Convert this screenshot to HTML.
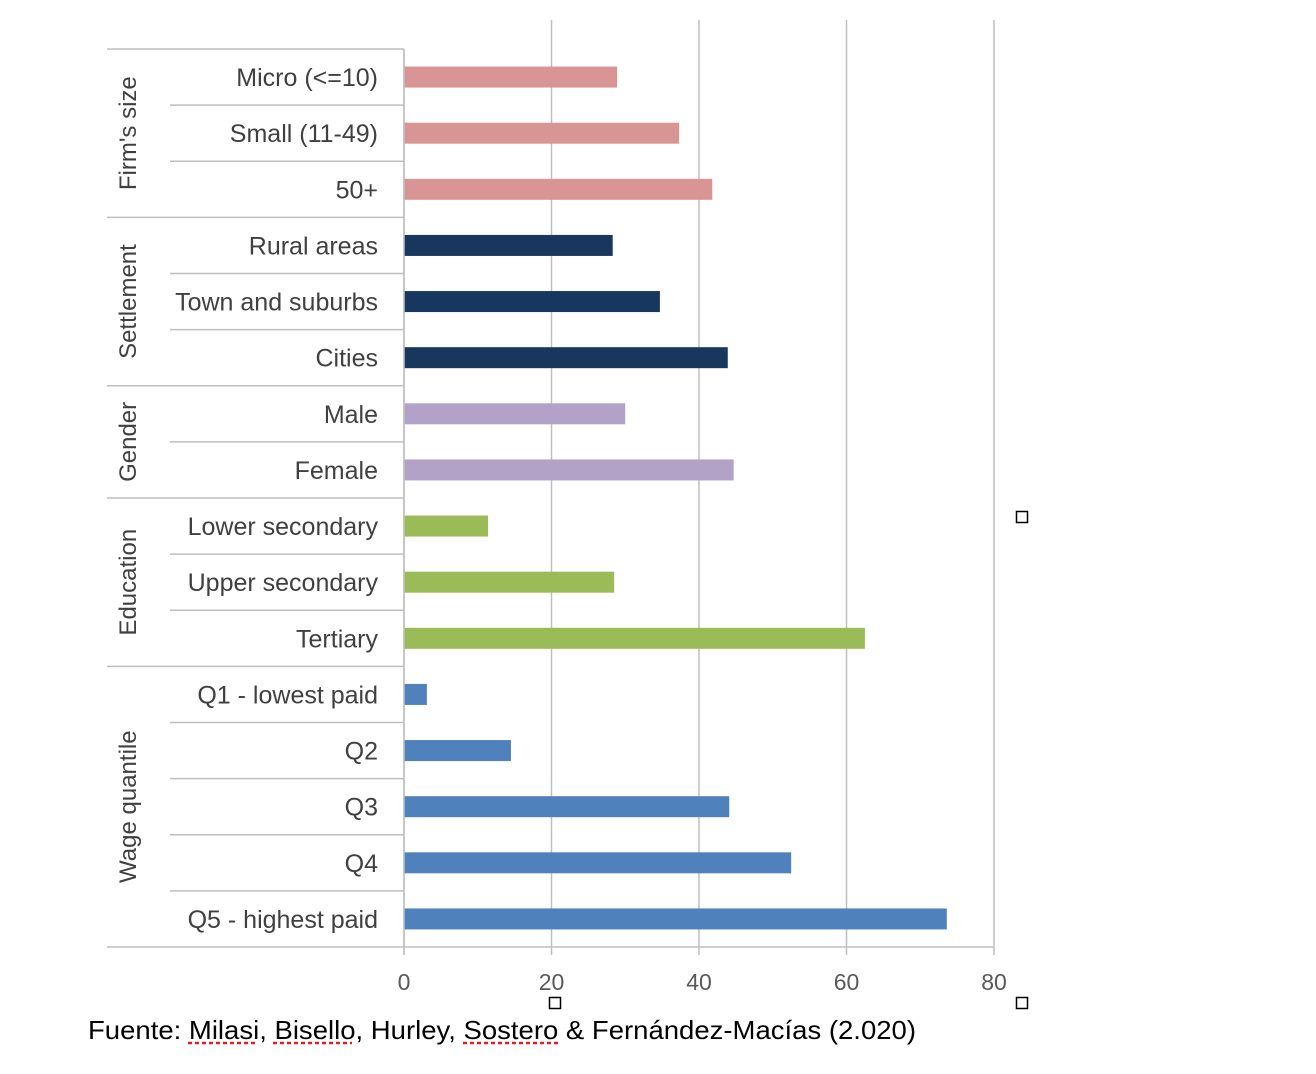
<!DOCTYPE html>
<html><head><meta charset="utf-8"><style>
body{margin:0;background:#fff;width:1316px;height:1074px;overflow:hidden}
svg{display:block}
text{font-family:"Liberation Sans",sans-serif}
</style></head><body>
<svg id="c" width="1316" height="1074"></svg>
<script>
const categories=["Micro (<=10)","Small (11-49)","50+","Rural areas","Town and suburbs","Cities","Male","Female","Lower secondary","Upper secondary","Tertiary","Q1 - lowest paid","Q2","Q3","Q4","Q5 - highest paid"];
const values=[28.9,37.3,41.8,28.3,34.7,43.9,30,44.7,11.4,28.5,62.5,3.1,14.5,44.1,52.5,73.6];
const groups=["Firm's size","Settlement","Gender","Education","Wage quantile"];
const groupSizes=[3,3,2,3,5];
const groupColors=["#d99594","#17375e","#b3a2c7","#9bbb59","#4f81bd"];
const ticks=[0,20,40,60,80];
const NS="http://www.w3.org/2000/svg";
const svg=document.getElementById('c');
const x0=404,xs=(994-404)/80,topY=49,rowH=56.125;
const x=v=>x0+v*xs, y=i=>topY+i*rowH;
function mk(t,a,p){const e=document.createElementNS(NS,t);for(const k in a)e.setAttribute(k,a[k]);(p||svg).appendChild(e);return e;}
ticks.forEach(t=>{
  const g=mk('line',{x1:x(t),x2:x(t),y1:t===0?topY:20,y2:955,stroke:'#bfbfbf','stroke-width':1.5});
  
  
  const l=mk('text',{x:x(t),y:990,'text-anchor':'middle','font-size':23,fill:'#595959'});l.textContent=t;
  
  
});
const ax=mk('line',{x1:107,x2:994,y1:947,y2:947,stroke:'#bfbfbf','stroke-width':1.5});


let idx=0;
groups.forEach((gname,gi)=>{
  const start=idx,n=groupSizes[gi];
  const gl=mk('line',{x1:107,x2:404,y1:y(start),y2:y(start),stroke:'#bfbfbf','stroke-width':1.5});
  
  
  const cy=(y(start)+y(start+n))/2;
  const gt=mk('text',{x:0,y:0,transform:`translate(136,${cy}) rotate(-90)`,'text-anchor':'middle','font-size':24,fill:'#404040'});
  gt.textContent=gname;
  
  
  for(let k=0;k<n;k++,idx++){
    if(k>0){const s=mk('line',{x1:170,x2:404,y1:y(idx),y2:y(idx),stroke:'#bfbfbf','stroke-width':1.5});
      
      }
    const c=y(idx)+rowH/2;
    const t=mk('text',{x:378,y:c+9,'text-anchor':'end','font-size':25,fill:'#404040'});t.textContent=categories[idx];
    
    
    const b=mk('rect',{x:x0,y:c-10.5,width:x(values[idx])-x0,height:21,fill:groupColors[gi]});
    
    
  }
});
const yl=mk('line',{x1:x0,x2:x0,y1:topY,y2:955,stroke:'#bfbfbf','stroke-width':1.5});


const src=mk('text',{x:88,y:1039,'font-size':26,fill:'#000',textLength:828,lengthAdjust:'spacingAndGlyphs'});
src.textContent="Fuente: Milasi, Bisello, Hurley, Sostero & Fernández-Macías (2.020)";


[[188,256],[273,352],[463,560]].forEach(s=>{
  const u=mk('line',{x1:s[0],x2:s[1],y1:1043,y2:1043,stroke:'#e02020','stroke-width':2.5,'stroke-dasharray':'4 3'});
  
  
});
[[1022,517],[555,1003],[1022,1003]].forEach(p=>{
  const h=mk('rect',{x:p[0]-5.5,y:p[1]-5.5,width:11,height:11,fill:'#fff',stroke:'#000','stroke-width':1.5});
  
  
});
</script>
</body></html>
